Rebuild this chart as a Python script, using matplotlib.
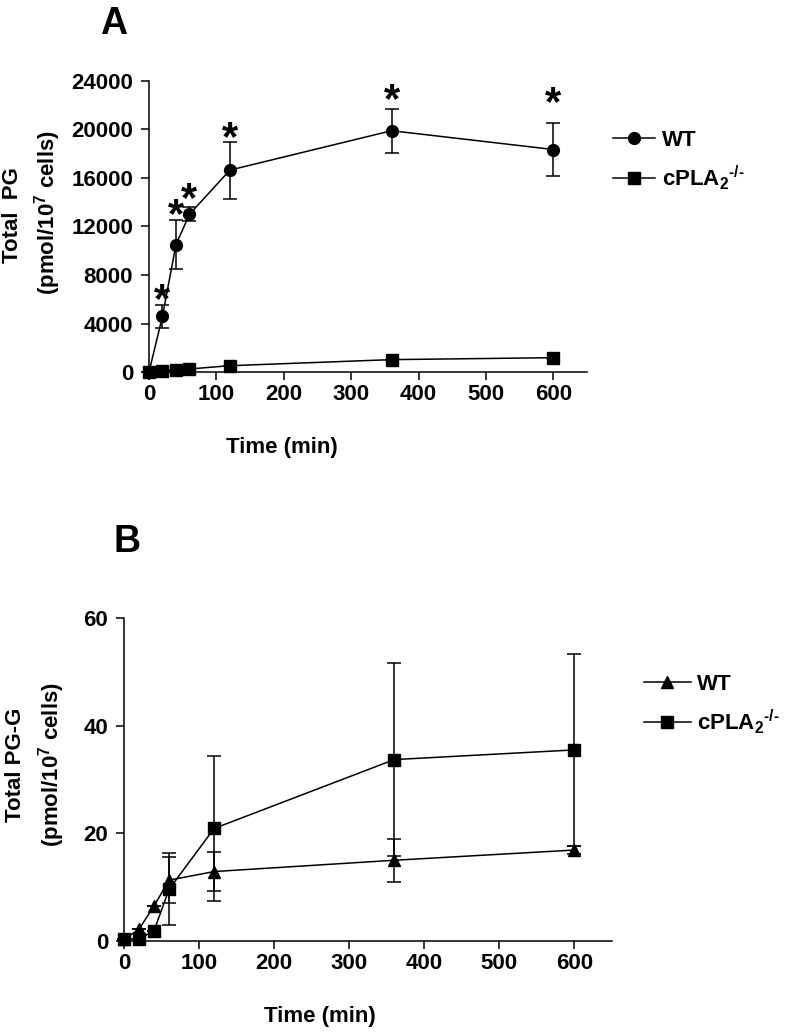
import matplotlib
matplotlib.use("Agg")
import matplotlib.pyplot as plt

plt.rcParams['font.family'] = ['Liberation Sans', 'DejaVu Sans']
plt.rcParams['font.weight'] = 'bold'
plt.rcParams['mathtext.fontset'] = 'custom'
plt.rcParams['mathtext.rm'] = 'Liberation Sans:bold'
plt.rcParams['mathtext.bf'] = 'Liberation Sans:bold'
plt.rcParams['mathtext.it'] = 'Liberation Sans:bold'
plt.rcParams['mathtext.default'] = 'rm'

# ---------------- data ----------------
time = [0, 20, 40, 60, 120, 360, 600]

a_wt = [0, 4600, 10500, 13000, 16650, 19900, 18350]
a_wt_err = [0, 950, 2000, 580, 2350, 1830, 2170]
a_ko = [0, 50, 150, 250, 520, 1020, 1180]
a_ko_err = [0, 0, 0, 0, 0, 0, 0]
a_star_times = [20, 40, 60, 120, 360, 600]

b_wt = [0.3, 2.2, 6.5, 11.3, 12.9, 15.0, 16.9]
b_wt_err = [0, 0, 0, 4.3, 3.6, 4.0, 0.8]
b_ko = [0.3, 0.4, 1.9, 9.6, 20.9, 33.7, 35.5]
b_ko_err = [0, 0, 0, 6.7, 13.5, 18.0, 17.8]

a_yticks = [0, 4000, 8000, 12000, 16000, 20000, 24000]
b_yticks = [0, 20, 40, 60]
xticks = [0, 100, 200, 300, 400, 500, 600]

label_wt = 'WT'
label_ko = r'cPLA$_2$$^{\text{-/-}}$'
# --------------------------------------

W, H = 792, 1032
fig = plt.figure(figsize=(W / 100, H / 100), dpi=100)


def ax_rect(l, r, t, b):
    return [l / W, 1 - b / H, (r - l) / W, (b - t) / H]


FS = 16
LW = 1.1


def style_axis(ax, yticks, ylim):
    ax.set_xlim(0, 650)
    ax.set_ylim(*ylim)
    ax.set_xticks(xticks)
    ax.set_yticks(yticks)
    for s in ['top', 'right']:
        ax.spines[s].set_visible(False)
    for s in ['left', 'bottom']:
        ax.spines[s].set_linewidth(LW)
    ax.tick_params(axis='both', direction='out', length=5.5, width=LW,
                   labelsize=FS)
    ax.tick_params(axis='y', pad=6)
    ax.tick_params(axis='x', pad=3)
    for lab in ax.get_xticklabels() + ax.get_yticklabels():
        lab.set_fontweight('bold')


common = dict(color='black', lw=LW, capsize=4.8, capthick=LW, elinewidth=LW,
              clip_on=False, zorder=5)

# ---------------- panel A ----------------
axA = fig.add_axes(ax_rect(149, 587, 81, 372))
cA1 = axA.errorbar(time, a_wt, yerr=a_wt_err, marker='o', ms=8.5,
                   label=label_wt, **common)
cA2 = axA.errorbar(time, a_ko, yerr=a_ko_err, marker='s', ms=8.0,
                   label=label_ko, **common)
style_axis(axA, a_yticks, (0, 24000))

star_offsets = [-5.5, -5.0, -3.0, -6.4, -2.4, 5.6]
for t, off in zip(a_star_times, star_offsets):
    i = time.index(t)
    axA.annotate('*', xy=(t, a_wt[i] + a_wt_err[i]), xytext=(0, off),
                 textcoords='offset points', ha='center', va='baseline',
                 fontsize=30, fontweight='bold', annotation_clip=False)

axA.set_xlabel('Time (min)', fontsize=FS, fontweight='bold')
axA.xaxis.set_label_coords((282 - 149) / (587 - 149), -(437 - 372) / 291)

fig.text(13 / W, 1 - 215 / H, 'Total  PG', rotation=90, ha='center',
         va='center', fontsize=FS, fontweight='bold')
fig.text(48 / W, 1 - 213 / H, r'(pmol/10$^7$ cells)', rotation=90,
         ha='center', va='center', fontsize=FS, fontweight='bold')

axA.legend(handles=[cA1.lines[0], cA2.lines[0]], labels=[label_wt, label_ko],
           loc='upper left', bbox_to_anchor=(613 / W, 1 - 130 / H),
           bbox_transform=fig.transFigure, frameon=False, fontsize=FS,
           handlelength=1.9, handletextpad=0.3, labelspacing=0.55,
           borderpad=0, borderaxespad=0)

fig.text(114 / W, 1 - 24 / H, 'A', ha='center', va='center', fontsize=27,
         fontweight='bold')

# ---------------- panel B ----------------
axB = fig.add_axes(ax_rect(124, 612, 618, 941))
cB1 = axB.errorbar(time, b_wt, yerr=b_wt_err, marker='^', ms=8.5,
                   label=label_wt, **common)
cB2 = axB.errorbar(time, b_ko, yerr=b_ko_err, marker='s', ms=8.0,
                   label=label_ko, **common)
style_axis(axB, b_yticks, (0, 60))

axB.set_xlabel('Time (min)', fontsize=FS, fontweight='bold')
axB.xaxis.set_label_coords((320 - 124) / (612 - 124), -(1006 - 941) / 323)

fig.text(16 / W, 1 - 765 / H, 'Total PG-G', rotation=90, ha='center',
         va='center', fontsize=FS, fontweight='bold')
fig.text(52 / W, 1 - 765 / H, r'(pmol/10$^7$ cells)', rotation=90,
         ha='center', va='center', fontsize=FS, fontweight='bold')

axB.legend(handles=[cB1.lines[0], cB2.lines[0]], labels=[label_wt, label_ko],
           loc='upper left', bbox_to_anchor=(644 / W, 1 - 674 / H),
           bbox_transform=fig.transFigure, frameon=False, fontsize=FS,
           handlelength=2.1, handletextpad=0.3, labelspacing=0.55,
           borderpad=0, borderaxespad=0)

fig.text(127 / W, 1 - 542 / H, 'B', ha='center', va='center', fontsize=27,
         fontweight='bold')

fig.savefig('out.png', dpi=100)
